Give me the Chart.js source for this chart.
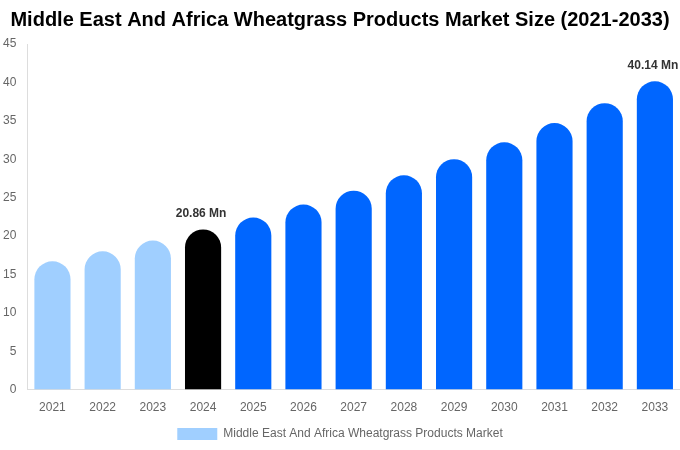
<!DOCTYPE html>
<html>
<head>
<meta charset="utf-8">
<script src="https://cdn.jsdelivr.net/npm/chart.js@4"></script>
<style>
  body { margin: 0; background: #fff; }
  #wrap { width: 680px; height: 450px; }
</style>
</head>
<body>
<div id="wrap"><canvas id="marketChart"></canvas></div>
<script>
const years = ['2021', '2022', '2023', '2024', '2025', '2026', '2027', '2028', '2029', '2030', '2031', '2032', '2033'];
const marketSize = [16.7, 18.0, 19.4, 20.86, 22.4, 24.1, 25.9, 27.9, 30.0, 32.2, 34.7, 37.3, 40.14];
const barColors = ['#a0cfff', '#a0cfff', '#a0cfff', '#000000', '#0066ff', '#0066ff', '#0066ff', '#0066ff', '#0066ff', '#0066ff', '#0066ff', '#0066ff', '#0066ff'];
const labelled = [3, 12];

// value labels over the base year and the last year
const valueLabels = {
    id: 'valueLabels',
    afterDatasetsDraw(chart) {
        const ctx = chart.ctx;
        const meta = chart.getDatasetMeta(0);
        ctx.save();
        ctx.font = 'bold 12px "Liberation Sans", Arial, sans-serif';
        ctx.fillStyle = '#333';
        ctx.textAlign = 'center';
        ctx.textBaseline = 'bottom';
        labelled.forEach(i => {
            const bar = meta.data[i];
            ctx.fillText(marketSize[i].toFixed(2) + ' Mn', bar.x - 2, bar.y - 10);
        });
        ctx.restore();
    }
};

new Chart(document.getElementById('marketChart'), {
    type: 'bar',
    data: {
        labels: years,
        datasets: [{
            label: 'Middle East And Africa Wheatgrass Products Market',
            data: marketSize,
            backgroundColor: barColors,
            borderRadius: 18,
            borderSkipped: 'bottom',
            barPercentage: 0.72,
            categoryPercentage: 1
        }]
    },
    options: {
        responsive: true,
        maintainAspectRatio: false,
        animation: false,
        layout: { padding: { left: 0, right: 0, top: 0, bottom: 0 } },
        scales: {
            x: {
                grid: { display: false },
                border: { color: '#ddd' },
                ticks: { color: '#666', font: { family: '"Liberation Sans", Arial, sans-serif', size: 12 } }
            },
            y: {
                beginAtZero: true,
                max: 45,
                grid: { display: false },
                border: { color: '#ddd' },
                ticks: { stepSize: 5, color: '#666', font: { family: '"Liberation Sans", Arial, sans-serif', size: 12 } }
            }
        },
        plugins: {
            title: {
                display: true,
                text: 'Middle East And Africa Wheatgrass Products Market Size (2021-2033)',
                color: '#000',
                font: { family: '"Liberation Sans", Arial, sans-serif', size: 20, weight: 'bold' },
                padding: { top: 8, bottom: 12 }
            },
            legend: {
                position: 'bottom',
                labels: {
                    color: '#666',
                    boxWidth: 40,
                    boxHeight: 12,
                    font: { family: '"Liberation Sans", Arial, sans-serif', size: 12 },
                    generateLabels: () => [{
                        text: 'Middle East And Africa Wheatgrass Products Market',
                        fillStyle: '#a0cfff',
                        strokeStyle: '#a0cfff',
                        fontColor: '#666',
                        lineWidth: 0,
                        datasetIndex: 0
                    }]
                }
            },
            tooltip: { enabled: false }
        }
    },
    plugins: [valueLabels]
});
</script>
</body>
</html>
